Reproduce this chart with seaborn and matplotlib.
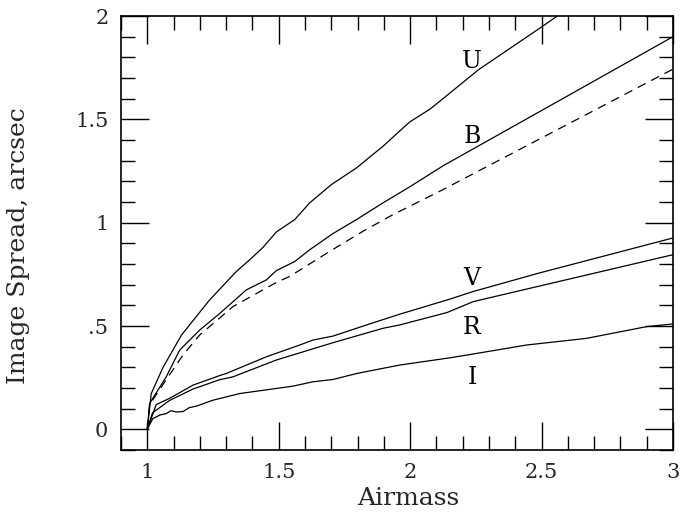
import numpy as np
import pandas as pd
import matplotlib
matplotlib.use("Agg")
import matplotlib.pyplot as plt
import seaborn as sns
from matplotlib.ticker import MultipleLocator, FixedLocator, FixedFormatter

# ---- data ----
u_x = [1.0, 1.015, 1.06, 1.13, 1.237, 1.339, 1.389, 1.44, 1.491, 1.561, 1.618, 1.70, 1.796, 1.897, 1.998, 2.075, 2.125, 2.26, 2.5, 2.6]
u_y = [0.0, 0.173, 0.30, 0.456, 0.626, 0.764, 0.82, 0.88, 0.955, 1.015, 1.096, 1.184, 1.265, 1.37, 1.487, 1.549, 1.60, 1.74, 1.947, 2.035]

b_x = [1.0, 1.009, 1.072, 1.123, 1.199, 1.275, 1.377, 1.453, 1.491, 1.561, 1.618, 1.706, 1.796, 1.897, 1.998, 2.125, 2.6, 3.0]
b_y = [0.0, 0.125, 0.254, 0.383, 0.48, 0.56, 0.675, 0.723, 0.768, 0.812, 0.869, 0.947, 1.015, 1.096, 1.173, 1.275, 1.614, 1.90]

d_x = [1.0, 1.009, 1.072, 1.136, 1.199, 1.326, 1.49, 1.542, 1.694, 1.82, 1.935, 2.075, 2.125, 3.0]
d_y = [0.0, 0.12, 0.24, 0.36, 0.456, 0.594, 0.71, 0.74, 0.861, 0.958, 1.039, 1.128, 1.16, 1.743]

v_x = [1.0, 1.034, 1.085, 1.174, 1.275, 1.30, 1.453, 1.58, 1.63, 1.706, 1.834, 1.96, 2.151, 2.24, 2.49, 3.0]
v_y = [0.0, 0.12, 0.15, 0.214, 0.26, 0.27, 0.351, 0.408, 0.432, 0.451, 0.505, 0.557, 0.63, 0.667, 0.756, 0.926]

r_x = [1.0, 1.02, 1.085, 1.174, 1.275, 1.326, 1.49, 1.58, 1.706, 1.897, 1.96, 2.14, 2.24, 3.0]
r_y = [0.0, 0.08, 0.14, 0.195, 0.24, 0.254, 0.335, 0.37, 0.419, 0.489, 0.505, 0.565, 0.618, 0.845]

i_x = [1.0, 1.021, 1.05, 1.072, 1.09, 1.11, 1.136, 1.16, 1.186, 1.25, 1.351, 1.554, 1.63, 1.706, 1.796, 1.96, 2.151, 2.214, 2.443, 2.67, 2.90, 3.0]
i_y = [0.0, 0.052, 0.07, 0.076, 0.09, 0.084, 0.086, 0.105, 0.112, 0.141, 0.173, 0.209, 0.23, 0.241, 0.27, 0.311, 0.346, 0.359, 0.408, 0.44, 0.497, 0.51]

band_labels = ["U", "B", "V", "R", "I"]
label_x = [2.235, 2.235, 2.235, 2.235, 2.235]
label_y = [1.78, 1.417, 0.728, 0.495, 0.252]

x_ticks = [1, 1.5, 2, 2.5, 3]
x_ticklabels = ["1", "1.5", "2", "2.5", "3"]
y_ticks = [0, 0.5, 1, 1.5, 2]
y_ticklabels = ["0", ".5", "1", "1.5", "2"]

# ---- build data frame ----
frames = []
for name, xs, ys in [("U", u_x, u_y), ("B", b_x, b_y), ("Bd", d_x, d_y),
                     ("V", v_x, v_y), ("R", r_x, r_y), ("I", i_x, i_y)]:
    frames.append(pd.DataFrame({"airmass": xs, "spread": ys, "band": name}))
df = pd.concat(frames, ignore_index=True)

sns.set_style("white")
plt.rcParams["font.family"] = ["DejaVu Serif"]

fig = plt.figure(figsize=(6.81, 5.18), dpi=100)
ax = fig.add_axes([121 / 681, 1 - 450 / 518, 552 / 681, 434 / 518])

for name in ["U", "B", "V", "R", "I"]:
    sub = df[df["band"] == name]
    sns.lineplot(data=sub, x="airmass", y="spread", ax=ax, color="black",
                 linewidth=0.9, sort=False, estimator=None)
sub = df[df["band"] == "Bd"]
sns.lineplot(data=sub, x="airmass", y="spread", ax=ax, color="black",
             linewidth=0.9, sort=False, estimator=None, linestyle=(0, (7, 5)))

for t, x, y in zip(band_labels, label_x, label_y):
    ax.text(x, y, t, ha="center", va="center", fontsize=17, color="black")

ax.set_xlim(0.9, 3.0)
ax.set_ylim(-0.1, 2.0)

ax.xaxis.set_major_locator(FixedLocator(x_ticks))
ax.xaxis.set_major_formatter(FixedFormatter(x_ticklabels))
ax.yaxis.set_major_locator(FixedLocator(y_ticks))
ax.yaxis.set_major_formatter(FixedFormatter(y_ticklabels))
ax.xaxis.set_minor_locator(MultipleLocator(0.1))
ax.yaxis.set_minor_locator(MultipleLocator(0.1))

ax.tick_params(which="both", direction="in", top=True, right=True,
               bottom=True, left=True, color="black", width=1.0)
ax.tick_params(which="major", length=20, labelsize=15, pad=9)
ax.tick_params(which="minor", length=10)

for s in ax.spines.values():
    s.set_visible(True)
    s.set_color("black")
    s.set_linewidth(1.2)

ax.set_xlabel("Airmass", fontsize=18)
ax.set_ylabel("Image Spread, arcsec", fontsize=18)
ax.xaxis.set_label_coords(0.52, -0.085)
ax.yaxis.set_label_coords(-0.165, 0.472)

fig.savefig("out.png", dpi=100)
